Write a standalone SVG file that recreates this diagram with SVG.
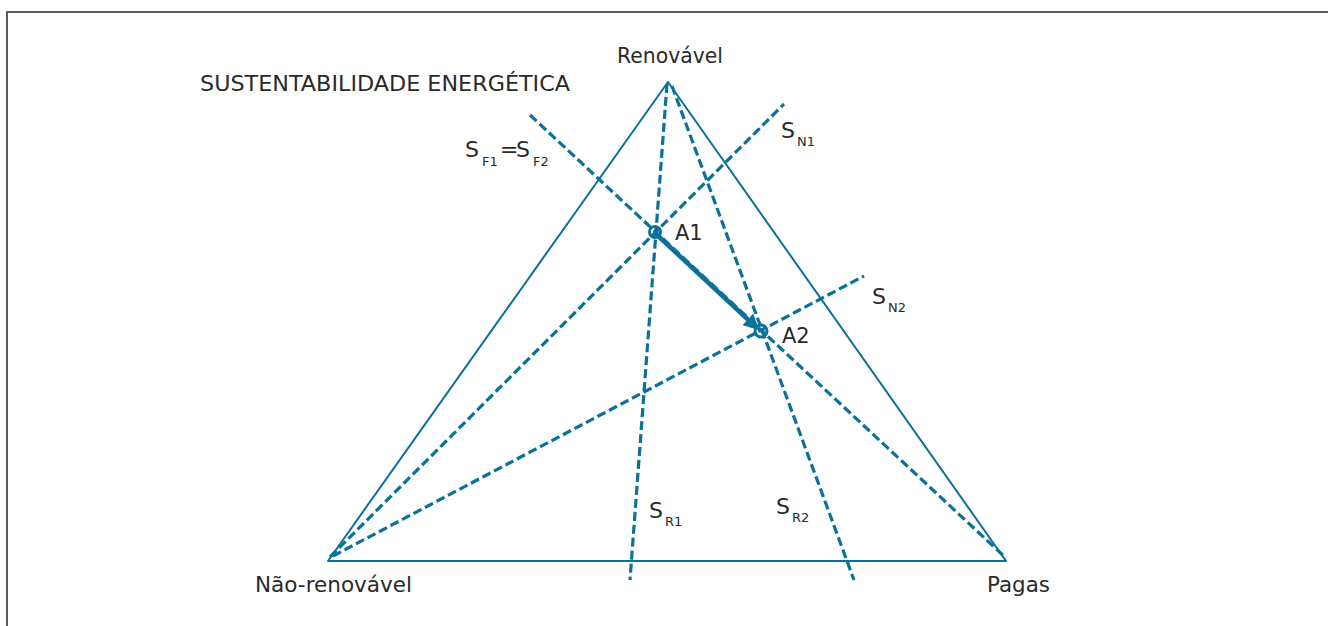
<svg xmlns="http://www.w3.org/2000/svg" width="1328" height="626" viewBox="0 0 1328 626">
<style>
.frame{fill:none;stroke:#5a5a5a;stroke-width:2}
.tri{fill:none;stroke:#0b7199;stroke-width:2;stroke-linejoin:round}
.dash{fill:none;stroke:#0b7199;stroke-width:3.2;stroke-dasharray:9 4;stroke-linecap:butt}
.arrow{fill:none;stroke:#0b7199;stroke-width:4.5}
.node{fill:none;stroke:#0b7199;stroke-width:3}
text{font-family:"DejaVu Sans","Liberation Sans",sans-serif;fill:#2a2a2a}
.lbl{font-size:21px}
.big{font-size:22px}
.sub{font-size:13px}
</style>
<defs>
<marker id="ah" viewBox="0 0 10 10" refX="8" refY="5" markerWidth="3.5" markerHeight="3.5" orient="auto" markerUnits="strokeWidth">
<path d="M0,0 L10,5 L0,10 z" fill="#0b7199"/>
</marker>
</defs>
<path class="frame" d="M7,626 V12 H1328"/>
<g id="triangle">
<path class="tri" d="M328,561 L668,82 L1006,561 Z"/>
</g>
<g id="connectors">
<line class="dash" x1="530" y1="115" x2="1006" y2="558"/>
<line class="dash" x1="330" y1="557" x2="784" y2="104"/>
<line class="dash" x1="333" y1="556" x2="864" y2="276"/>
<line class="dash" x1="667" y1="84" x2="630" y2="580"/>
<line class="dash" x1="672" y1="86" x2="854" y2="580"/>
<line class="arrow" x1="656" y1="234" x2="757" y2="328" marker-end="url(#ah)"/>
</g>
<g id="A1">
<circle class="node" cx="655" cy="232" r="5.5"/>
<text class="lbl" x="675" y="240">A1</text>
</g>
<g id="A2">
<circle class="node" cx="761" cy="331" r="6"/>
<text class="lbl" x="782" y="343">A2</text>
</g>
<g id="title">
<text class="lbl" x="200" y="91" textLength="370" lengthAdjust="spacingAndGlyphs">SUSTENTABILIDADE  ENERGÉTICA</text>
</g>
<g id="renovavel">
<text class="lbl" x="617" y="63" textLength="106" lengthAdjust="spacingAndGlyphs">Renovável</text>
</g>
<g id="nao-renovavel">
<text class="lbl" x="255" y="592" textLength="157" lengthAdjust="spacingAndGlyphs">Não-renovável</text>
</g>
<g id="pagas">
<text class="lbl" x="987" y="592" textLength="63" lengthAdjust="spacingAndGlyphs">Pagas</text>
</g>
<g id="SF">
<text class="big" x="465" y="157">S</text><text class="sub" x="482" y="166">F1</text>
<text class="big" x="500" y="157">=</text>
<text class="big" x="516" y="157">S</text><text class="sub" x="533" y="166">F2</text>
</g>
<g id="SN1">
<text class="big" x="781" y="138">S</text><text class="sub" x="797" y="146">N1</text>
</g>
<g id="SN2">
<text class="big" x="872" y="304">S</text><text class="sub" x="888" y="312">N2</text>
</g>
<g id="SR1">
<text class="big" x="649" y="518">S</text><text class="sub" x="665" y="526">R1</text>
</g>
<g id="SR2">
<text class="big" x="776" y="514">S</text><text class="sub" x="792" y="522">R2</text>
</g>
</svg>
